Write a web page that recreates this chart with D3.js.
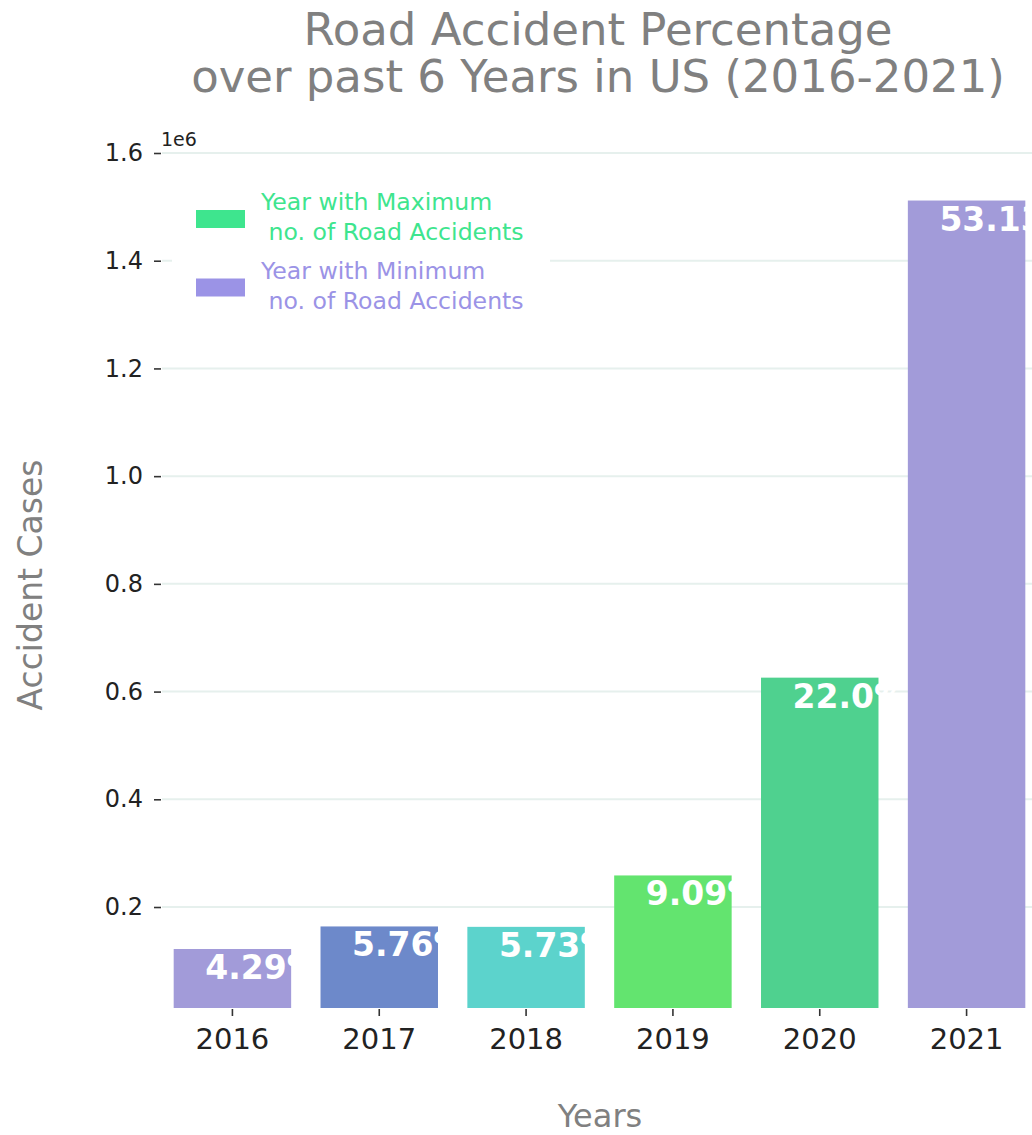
<!DOCTYPE html>
<html>
<head>
<meta charset="utf-8">
<script src="https://cdn.jsdelivr.net/npm/d3@7"></script>
<style>
  html, body { margin: 0; padding: 0; background: #ffffff; }
  svg { display: block; font-family: "DejaVu Sans", sans-serif; }
</style>
</head>
<body>
<svg id="chart" width="1032" height="1135"></svg>
<script>
// Yearly accident counts (US, 2016-2021)
const years = ["2016", "2017", "2018", "2019", "2020", "2021"];
const accidentCases = [122024, 163918, 163176, 258615, 625864, 1511745];
const pctLabels = ["4.29%", "5.76%", "5.73%", "9.09%", "22.0%", "53.13%"];
const barColors = ["#a29bd9", "#6d89ca", "#5cd3cc", "#63e46f", "#4fd18f", "#a29bd9"];

// Y axis ticks (in millions, shown with a 1e6 offset label)
const yTickValues = [200000, 400000, 600000, 800000, 1000000, 1200000, 1400000, 1600000];
const yTickLabels = ["0.2", "0.4", "0.6", "0.8", "1.0", "1.2", "1.4", "1.6"];

// Legend entries
const legendLabels = [["Year with Maximum", " no. of Road Accidents"],
                      ["Year with Minimum", " no. of Road Accidents"]];
const legendColors = ["#3ee58e", "#9b93e6"];

const svg = d3.select("#chart");

const plot = { left: 162, right: 1040, top: 150, bottom: 1008 };

const x = d3.scaleBand()
  .domain(years)
  .range([159, 1040])
  .paddingInner(0.2)
  .paddingOuter(0.1);

const y = d3.scaleLinear()
  .domain([12500, 1600000])
  .range([plot.bottom, 153]);

// Horizontal grid lines
svg.append("g")
  .selectAll("line")
  .data(yTickValues)
  .join("line")
  .attr("x1", plot.left)
  .attr("x2", 1032)
  .attr("y1", d => y(d))
  .attr("y2", d => y(d))
  .attr("stroke", "#e6f0ed")
  .attr("stroke-width", 2);

// Y axis (ticks and labels only, no spine)
const yAxis = d3.axisLeft(y)
  .tickValues(yTickValues)
  .tickFormat((d, i) => yTickLabels[i])
  .tickSize(7)
  .tickPadding(11);

const gy = svg.append("g")
  .attr("transform", `translate(${plot.left - 1},0)`)
  .call(yAxis);
gy.select(".domain").remove();
gy.selectAll(".tick line").attr("stroke", "#333333").attr("stroke-width", 1.6);
gy.selectAll(".tick text")
  .attr("fill", "#222222")
  .style("font-size", "24px")
  .style("font-family", "DejaVu Sans");

// Offset label for the y axis
svg.append("text")
  .attr("x", 161)
  .attr("y", 146)
  .attr("fill", "#222222")
  .style("font-size", "19px")
  .text("1e6");

// Bars
svg.append("g")
  .selectAll("rect")
  .data(years)
  .join("rect")
  .attr("x", d => x(d))
  .attr("width", x.bandwidth())
  .attr("y", (d, i) => y(accidentCases[i]))
  .attr("height", (d, i) => y.range()[0] - y(accidentCases[i]))
  .attr("fill", (d, i) => barColors[i]);

// X axis (ticks and labels only)
const xAxis = d3.axisBottom(x)
  .tickSize(7)
  .tickPadding(12);

const gx = svg.append("g")
  .attr("transform", `translate(0,${plot.bottom + 1})`)
  .call(xAxis);
gx.select(".domain").remove();
gx.selectAll(".tick line").attr("stroke", "#333333").attr("stroke-width", 1.6);
gx.selectAll(".tick text")
  .attr("fill", "#222222")
  .style("font-size", "29px")
  .style("font-family", "DejaVu Sans");

// Percentage labels inside the bars
svg.append("g")
  .selectAll("text")
  .data(years)
  .join("text")
  .attr("x", d => x(d) + x.bandwidth() / 2 - 0.185 * x.step())
  .attr("y", (d, i) => y(accidentCases[i]) + 30)
  .attr("fill", "#ffffff")
  .style("font-size", "33px")
  .style("font-weight", "bold")
  .text((d, i) => pctLabels[i]);

// Legend
const legend = svg.append("g");
legend.append("rect")
  .attr("x", 172).attr("y", 172)
  .attr("width", 378).attr("height", 148)
  .attr("fill", "#ffffff");

legendLabels.forEach((lines, i) => {
  const top = 210 + i * 68.5;
  legend.append("rect")
    .attr("x", 196).attr("y", top)
    .attr("width", 49).attr("height", 18)
    .attr("fill", legendColors[i]);
  const t = legend.append("text")
    .attr("fill", legendColors[i])
    .style("font-size", "23.6px")
    .attr("xml:space", "preserve")
    .style("white-space", "pre");
  lines.forEach((line, j) => {
    t.append("tspan")
      .attr("x", 261)
      .attr("y", top + j * 30)
      .text(line);
  });
});

// Title
svg.append("text")
  .attr("x", 598)
  .attr("text-anchor", "middle")
  .attr("fill", "#808080")
  .style("font-size", "45px")
  .selectAll("tspan")
  .data(["Road Accident Percentage", "over past 6 Years in US (2016-2021)"])
  .join("tspan")
  .attr("x", 598)
  .attr("y", (d, i) => 45 + i * 47)
  .text(d => d);

// Axis titles
svg.append("text")
  .attr("x", 600)
  .attr("y", 1127)
  .attr("text-anchor", "middle")
  .attr("fill", "#808080")
  .style("font-size", "32px")
  .text("Years");

svg.append("text")
  .attr("transform", "translate(42,585) rotate(-90)")
  .attr("text-anchor", "middle")
  .attr("fill", "#808080")
  .style("font-size", "33px")
  .text("Accident Cases");
</script>
</body>
</html>
